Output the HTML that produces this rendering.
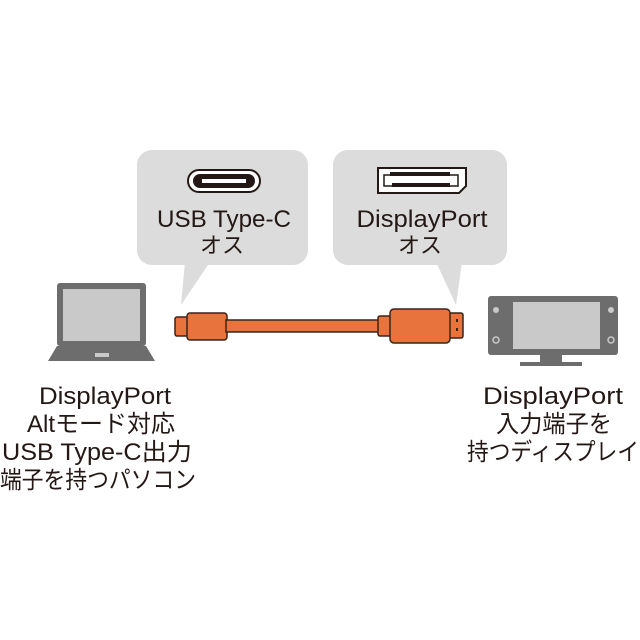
<!DOCTYPE html>
<html><head><meta charset="utf-8"><style>
html,body{margin:0;padding:0;background:#fff;}
svg{display:block}
text{font-family:"Liberation Sans","Noto Sans CJK JP",sans-serif;fill:#231815;text-anchor:middle}
</style></head><body>
<svg width="640" height="640" viewBox="0 0 640 640">
<g fill="#dcdcdc">
<rect x="137" y="150" width="171" height="115" rx="15"/>
<polygon points="185,262 210,262 181,305"/>
<rect x="333" y="150" width="174" height="115" rx="15"/>
<polygon points="436,262 462,262 456,305"/>
</g>
<rect x="188" y="170" width="72" height="22" rx="11" fill="#fff" stroke="#231815" stroke-width="2"/>
<rect x="193" y="174" width="62" height="14" rx="7" fill="#231815"/>
<rect x="202" y="179" width="44" height="4" fill="#fff"/>
<path d="M378,168 H466 V186 L459,193 H378 Z" fill="#fff" stroke="#231815" stroke-width="2"/>
<path d="M384,175 H458 V186 H384 Z" fill="none" stroke="#231815" stroke-width="1.5"/>
<rect x="390" y="172" width="60" height="4" fill="#231815"/>
<rect x="392" y="183" width="58" height="4" fill="#231815"/>
<text x="224" y="227" font-size="24" textLength="134" lengthAdjust="spacingAndGlyphs">USB Type-C</text>
<text x="222" y="253" font-size="22">オス</text>
<text x="422" y="227" font-size="24" textLength="131" lengthAdjust="spacingAndGlyphs">DisplayPort</text>
<text x="420" y="253" font-size="22">オス</text>
<g fill="#e8733c" stroke="#3a2418" stroke-width="1.5">
<rect x="175" y="317" width="14" height="19" rx="2"/>
<rect x="187" y="313" width="40" height="27" rx="3"/>
<rect x="226" y="320" width="153" height="12"/>
<rect x="378" y="316" width="13" height="20" rx="2"/>
<rect x="449" y="313" width="14" height="25" rx="2"/>
<rect x="390" y="309" width="60" height="34" rx="4"/>
</g>
<rect x="456" y="319" width="2" height="3" fill="#3a2418"/>
<rect x="456" y="328" width="2" height="3" fill="#3a2418"/>
<rect x="57" y="283" width="89" height="63" rx="3" fill="#6d6d6d"/>
<rect x="63" y="289" width="77" height="52" fill="#c9c9c9"/>
<path d="M57,346 H146 L155,361 H48 Z" fill="#6d6d6d"/>
<rect x="95" y="353" width="14" height="4" fill="#c9c9c9"/>
<rect x="488" y="296" width="130" height="59" rx="3" fill="#6d6d6d"/>
<rect x="513" y="302" width="87" height="47" fill="#c9c9c9"/>
<circle cx="496" cy="310" r="3" fill="#c9c9c9"/>
<circle cx="611" cy="310" r="3" fill="#c9c9c9"/>
<circle cx="496" cy="340" r="3" fill="none" stroke="#c9c9c9" stroke-width="1.5"/>
<circle cx="611" cy="340" r="3" fill="none" stroke="#c9c9c9" stroke-width="1.5"/>
<rect x="540" y="355" width="22" height="8" fill="#6d6d6d"/>
<rect x="520" y="362" width="62" height="4" fill="#6d6d6d"/>
<g font-size="24">
<text x="105" y="404" textLength="132" lengthAdjust="spacingAndGlyphs">DisplayPort</text>
<text x="101" y="432" textLength="148" lengthAdjust="spacingAndGlyphs">Altモード対応</text>
<text x="97" y="460" textLength="190" lengthAdjust="spacingAndGlyphs">USB Type-C出力</text>
<text x="98" y="488" textLength="196" lengthAdjust="spacingAndGlyphs">端子を持つパソコン</text>
<text x="553" y="404" textLength="140" lengthAdjust="spacingAndGlyphs">DisplayPort</text>
<text x="554" y="432" textLength="116" lengthAdjust="spacingAndGlyphs">入力端子を</text>
<text x="553" y="460" textLength="172" lengthAdjust="spacingAndGlyphs">持つディスプレイ</text>
</g>
</svg>
</body></html>
